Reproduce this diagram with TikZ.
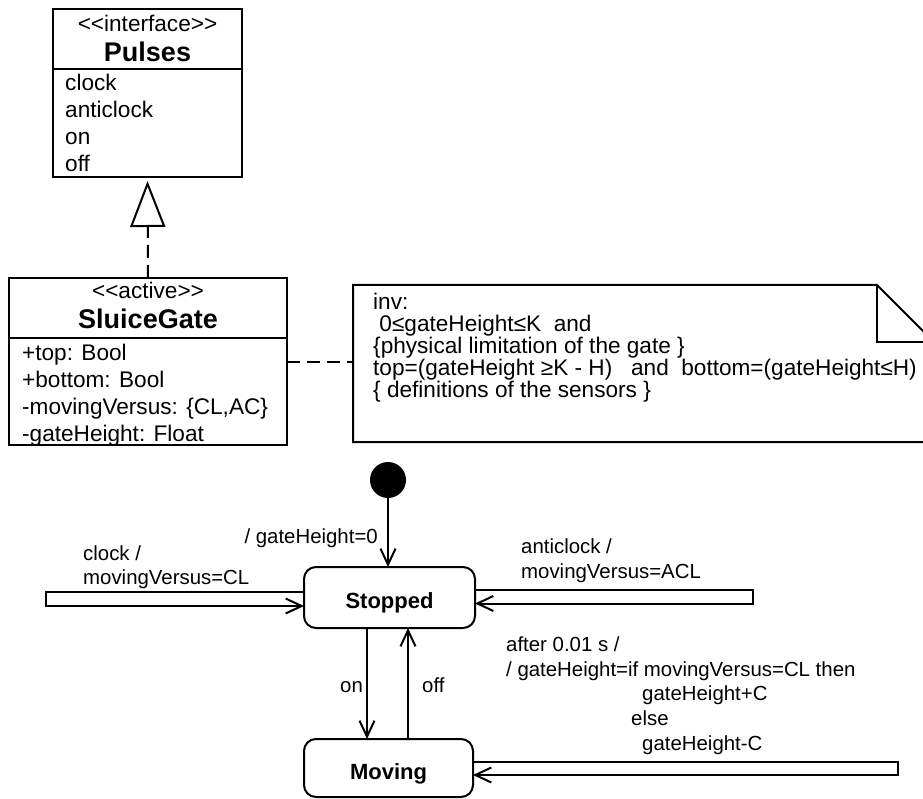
\documentclass[tikz,border=0pt]{standalone}
\usepackage{fontspec}
\setmainfont{Liberation Sans}[Ligatures=TeXOff]
\usetikzlibrary{arrows.meta}

\tikzset{
  cls/.style={draw, rectangle, line width=2pt, inner sep=0pt, outer sep=0pt},
  clstxt/.style={anchor=base west, inner sep=0pt, font=\fontsize{22.6}{27}\selectfont},
  stereo/.style={anchor=base, inner sep=0pt, font=\fontsize{22.6}{27}\selectfont},
  clsname/.style={anchor=base, inner sep=0pt, font=\fontsize{27}{32}\selectfont\bfseries},
  notetxt/.style={anchor=base west, inner sep=0pt, font=\fontsize{22.6}{22}\selectfont},
  statebox/.style={draw, rectangle, rounded corners=12pt, line width=2pt, inner sep=0pt, outer sep=0pt},
  statename/.style={anchor=base, inner sep=0pt, font=\fontsize{22}{26}\selectfont\bfseries},
  lbl/.style={anchor=base west, inner sep=0pt, font=\fontsize{20.4}{24}\selectfont},
  trans/.style={line width=2pt, -{Straight Barb[length=16pt,width=15pt]}},
  dashline/.style={line width=2pt, dash pattern=on 13pt off 7pt},
}

\begin{document}
\begin{tikzpicture}[x=1pt, y=-1pt]
\useasboundingbox (0,0) rectangle (923,799);
\clip (0,0) rectangle (923,799);

% ---------- interface Pulses ----------
\node[cls, minimum width=189pt, minimum height=168pt] (pulses) at (147.5,93) {};
\draw[line width=2pt] (pulses.west |- 0,69) -- (pulses.east |- 0,69);
\node[stereo] (pulsesSt) at (147.5,32) {<<interface>>};
\node[clsname] (pulsesNm) at (147.5,62) {Pulses};
\node[clstxt] (pA) at (65,91) {clock};
\node[clstxt] (pB) at (65,118) {anticlock};
\node[clstxt] (pC) at (65,145) {on};
\node[clstxt] (pD) at (65,172) {off};

% ---------- active class SluiceGate ----------
\node[cls, minimum width=278pt, minimum height=167pt] (sluice) at (148,361.5) {};
\draw[line width=2pt] (sluice.west |- 0,338) -- (sluice.east |- 0,338);
\node[stereo] (sluiceSt) at (148,299) {<<active>>};
\node[clsname] (sluiceNm) at (148,328) {SluiceGate};
\node[clstxt] (sA) at (22,360) {+top: Bool};
\node[clstxt] (sB) at (22,387) {+bottom: Bool};
\node[clstxt] (sC) at (22,414) {-movingVersus: \{CL,AC\}};
\node[clstxt] (sD) at (22,441) {-gateHeight: Float};

% realization
\draw[dashline, shorten >=4pt,
      -{Triangle[open, length=46pt, width=35pt, line width=2pt]}]
  (sluice.north) -- (pulses.south);

% ---------- invariant note ----------
\draw[line width=2pt, line join=miter]
  (353,285) -- (877,285) -- (934,342) -- (934,442) -- (353,442) -- cycle;
\draw[line width=2pt] (877,285) -- (877,342) -- (934,342);
\coordinate (noteW) at (353,361.5);
\draw[dashline] (sluice.east) -- (noteW);
\node[notetxt] (n1) at (373,310) {inv:};
\node[notetxt] (n2) at (373,332) {~0≤gateHeight≤K~~and};
\node[notetxt] (n3) at (373,353.5) {\{physical limitation of the gate \}};
\node[notetxt] (n4) at (373,375) {top=(gateHeight ≥K - H)~~~and~~bottom=(gateHeight≤H)};
\node[notetxt] (n5) at (373,397) {\{ definitions of the sensors \}};

% ---------- state machine ----------
\node[circle, fill=black, minimum size=36pt, inner sep=0pt] (init) at (388,480) {};
\node[statebox, minimum width=171pt, minimum height=61pt] (stopped) at (389.5,597.5) {};
\node[statename] (stoppedNm) at (389.5,608) {Stopped};
\node[statebox, minimum width=169pt, minimum height=58pt] (moving) at (388.5,768) {};
\node[statename] (movingNm) at (388.5,779) {Moving};

% initial transition
\draw[trans] (init.south) -- (init |- stopped.north);
\node[lbl, anchor=base east] (initL) at (378,543) {/ gateHeight=0};

% on / off
\draw[trans] (stopped.south -| 367,0) -- (moving.north -| 367,0);
\draw[trans] (moving.north -| 408,0) -- (stopped.south -| 408,0);
\node[lbl] (onL) at (340,692) {on};
\node[lbl] (offL) at (422,692) {off};

% self transition: clock
\draw[trans] (stopped.west |- 0,592) -| (46,606) -- (stopped.west |- 0,606);
\node[lbl] (clk1) at (83,560) {clock /};
\node[lbl] (clk2) at (83,584) {movingVersus=CL};

% self transition: anticlock
\draw[trans] (stopped.east |- 0,590) -| (753,603.5) -- (stopped.east |- 0,603.5);
\node[lbl] (acl1) at (521,553) {anticlock /};
\node[lbl] (acl2) at (521,578) {movingVersus=ACL};

% self transition: time event while moving
\draw[trans] (moving.east |- 0,762) -| (898,775) -- (moving.east |- 0,775);
\node[lbl] (tm1) at (506,651) {after 0.01 s /};
\node[lbl] (tm2) at (506,676) {/ gateHeight=if movingVersus=CL then};
\node[lbl] (tm3) at (642,700.5) {gateHeight+C};
\node[lbl] (tm4) at (631,725.5) {else};
\node[lbl] (tm5) at (642,750) {gateHeight-C};
\end{tikzpicture}
\end{document}
